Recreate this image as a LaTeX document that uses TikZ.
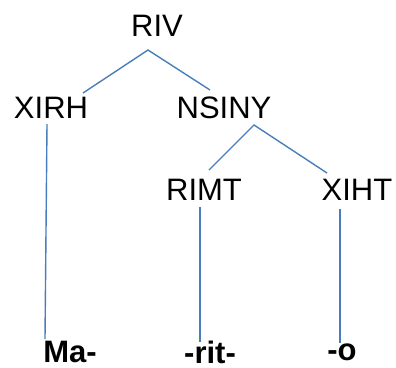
\documentclass[tikz,border=0pt]{standalone}
\usepackage{fontspec}
\setmainfont{Liberation Sans}
\definecolor{treeblue}{HTML}{4A7EBB}
\begin{document}
\begin{tikzpicture}[x=1pt,y=-1pt,
  lbl/.style={inner sep=0pt,font=\fontsize{31}{36}\selectfont},
  leaf/.style={inner sep=0pt,font=\fontsize{31}{36}\selectfont\bfseries},
  edge/.style={draw=treeblue,line width=1.4pt}]
\useasboundingbox (0,0) rectangle (396,367);
\node[lbl] (riv) at (157,26) {RIV};
\node[lbl] (xirh) at (51,108) {XIRH};
\node[lbl] (nsiny) at (224,108) {NSINY};
\node[lbl] (rimt) at (204,190) {RIMT};
\node[lbl] (xiht) at (357,190) {XIHT};
\node[leaf] (ma) at (70,352) {Ma-};
\node[leaf] (rit) at (210,352) {-rit-};
\node[leaf] (o) at (342,352) {-o};
% connector ends
\coordinate (rivB) at (148,50);
\coordinate (xirhT) at (83,93);
\coordinate (nsinyT) at (210,90);
\coordinate (xirhB) at (47,124);
\coordinate (maT) at (45,339);
\coordinate (nsinyB) at (254,125);
\coordinate (rimtT) at (209,170);
\coordinate (xihtT) at (327,173);
\coordinate (rimtB) at (200,207);
\coordinate (ritT) at (200,342);
\coordinate (xihtB) at (340,209);
\coordinate (oT) at (340,343);
\draw[edge] (xirhT) -- (rivB) -- (nsinyT);
\draw[edge] (xirhB) -- (maT);
\draw[edge] (rimtT) -- (nsinyB) -- (xihtT);
\draw[edge] (rimtB) -- (ritT);
\draw[edge] (xihtB) -- (oT);
\end{tikzpicture}
\end{document}
